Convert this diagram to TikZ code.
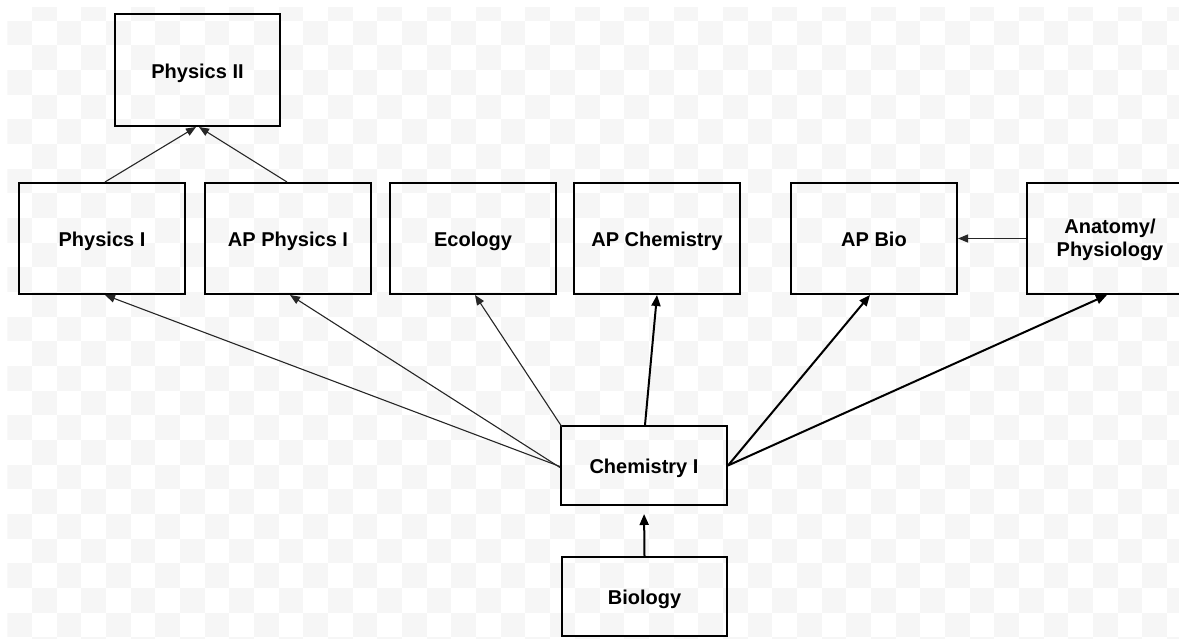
\documentclass[tikz,border=0pt]{standalone}
\usepackage{fontspec}
\setmainfont{Liberation Sans}
\usetikzlibrary{arrows.meta}
\definecolor{checkgray}{RGB}{246,246,246}
\tikzset{
  course/.style={draw=black, line width=2pt, rectangle, inner sep=0pt,
    minimum width=166pt, minimum height=111pt, align=center,
    font=\fontsize{20pt}{23pt}\selectfont\bfseries},
  oneline/.style={text height=16.5pt, text depth=0pt},
  smallcourse/.style={course, oneline, minimum height=79pt},
  thinarrow/.style={draw=black!85, line width=1.1pt, -{Triangle[length=10pt,width=8pt]}},
  thickarrow/.style={draw=black, line width=2pt, -{Triangle[length=11pt,width=9pt]}}
}
\begin{document}
\begin{tikzpicture}[x=1pt,y=-1pt]
\useasboundingbox (0,0) rectangle (1179,639);
\fill[white] (0,0) rectangle (1179,639);
\begin{scope}
\clip (7.3,7.3) rectangle (1179,639);
\foreach \r in {0,...,26}{
  \foreach \i in {0,...,47}{
    \pgfmathtruncatemacro\s{mod(\i+\r,2)}
    \ifnum\s=1
      \fill[checkgray] ({7.3+24.675*\i},{-4.1+24.675*\r}) rectangle ++(24.675,24.675);
    \fi
  }
}
\end{scope}

\node[course, oneline, minimum width=165pt, minimum height=112pt] (p2) at (197.5,70) {Physics II};
\node[course, oneline] (p1) at (102,238.5) {Physics I};
\node[course, oneline] (ap1) at (288,238.5) {AP Physics I};
\node[course, oneline] (eco) at (473,238.5) {Ecology};
\node[course, oneline] (apchem) at (657,238.5) {AP Chemistry};
\node[course, oneline] (apbio) at (874,238.5) {AP Bio};
\node[course] (anat) at (1110,238.5) {\rule{0pt}{17pt}Anatomy/\\Physiology};
\node[smallcourse] (chem) at (644,465.5) {Chemistry I};
\node[smallcourse, minimum width=165pt] (bio) at (644.5,596.5) {Biology};

\draw[thinarrow] ([xshift=3pt]p1.north) -- ([xshift=-1.5pt]p2.south);
\draw[thinarrow] ([xshift=-1pt]ap1.north) -- ([xshift=1.5pt]p2.south);

\draw[thinarrow] ([yshift=-1pt]chem.west) -- ([xshift=3pt]p1.south);
\draw[thinarrow] ([yshift=-2pt]chem.west) -- ([xshift=2pt]ap1.south);
\draw[thinarrow] ([xshift=2pt,yshift=-2pt]chem.north west) -- ([xshift=2pt]eco.south);
\draw[thickarrow] ([xshift=1pt]chem.north) -- (apchem.south);
\draw[thickarrow] (chem.east) -- ([xshift=-4pt]apbio.south);
\draw[thickarrow] (chem.east) -- ([xshift=-3pt]anat.south);
\draw[thinarrow] (anat.west) -- (apbio.east);
\draw[thickarrow, shorten >=8pt] (bio.north) -- (chem.south);
\end{tikzpicture}
\end{document}
